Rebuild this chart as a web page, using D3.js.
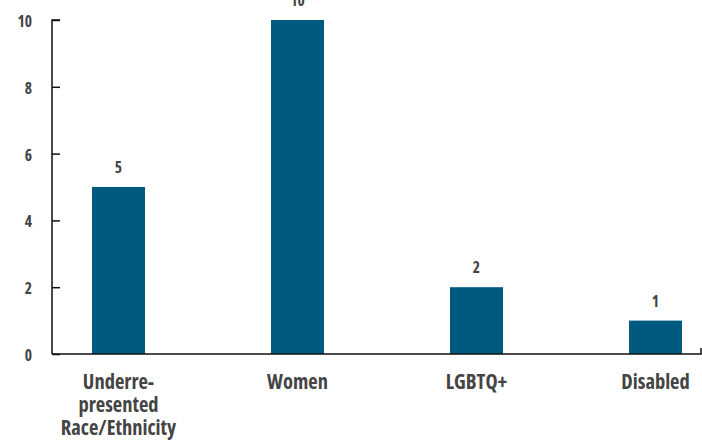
<!DOCTYPE html>
<html>
<head>
<meta charset="utf-8">
<script src="https://cdn.jsdelivr.net/npm/d3@7"></script>
<style>
  html, body { margin: 0; padding: 0; background: #fff; }
  svg { display: block; }
  text { font-family: "Open Sans", sans-serif; font-stretch: 75%; font-weight: bold; fill: #444; }
</style>
</head>
<body>
<svg id="chart" width="702" height="443"></svg>
<script>
const categories = [["Underre-", "presented", "Race/Ethnicity"], ["Women"], ["LGBTQ+"], ["Disabled"]];
const values = [5, 10, 2, 1];
const yTicks = [0, 2, 4, 6, 8, 10];

const svg = d3.select("#chart");
const axisLeftX = 52, axisRightX = 701;
const yTop = 20, yBottom = 354;

const keys = categories.map((c, i) => i);
const x = d3.scaleBand().domain(keys).range([29, 745]).paddingInner(0.704).paddingOuter(0.352);
const y = d3.scaleLinear().domain([0, 10]).range([yBottom, yTop]);

// bars
svg.selectAll("rect.bar").data(values).join("rect")
  .attr("class", "bar")
  .attr("x", (d, i) => x(i))
  .attr("width", x.bandwidth())
  .attr("y", d => y(d))
  .attr("height", d => yBottom - y(d))
  .attr("fill", "#005a80");

// value labels
svg.selectAll("text.val").data(values).join("text")
  .attr("class", "val")
  .attr("x", (d, i) => x(i) + x.bandwidth() / 2)
  .attr("y", d => y(d) - 14)
  .attr("text-anchor", "middle")
  .style("font-size", "15.5px")
  .text(d => d);

// y axis
const yAxis = d3.axisRight(y).tickValues(yTicks).tickSize(8).tickFormat("");
const gy = svg.append("g").attr("transform", `translate(${axisLeftX},0)`).call(yAxis);
gy.select(".domain").attr("d", `M8,${yTop}H0V${yBottom}`).attr("stroke", "#111").attr("stroke-width", 1.5);
gy.selectAll(".tick line").attr("stroke", "#111").attr("stroke-width", 1.5);

svg.selectAll("text.ytick").data(yTicks).join("text")
  .attr("class", "ytick")
  .attr("x", 32)
  .attr("y", d => y(d) + 7)
  .attr("text-anchor", "end")
  .style("font-size", "15.5px")
  .text(d => d);

// x axis baseline with end tick
svg.append("path")
  .attr("d", `M${axisLeftX},${yBottom}H${axisRightX}V${yBottom - 6}`)
  .attr("fill", "none").attr("stroke", "#111").attr("stroke-width", 1.5);

// category labels
svg.selectAll("text.cat").data(categories).join("text")
  .attr("class", "cat")
  .attr("text-anchor", "middle")
  .attr("transform", (d, i) => `translate(${x(i) + x.bandwidth() / 2},389)`)
  .style("font-size", "20.5px")
  .selectAll("tspan").data(d => d).join("tspan")
  .attr("x", 0)
  .attr("dy", (d, j) => j === 0 ? 0 : 23)
  .text(d => d);
</script>
</body>
</html>
